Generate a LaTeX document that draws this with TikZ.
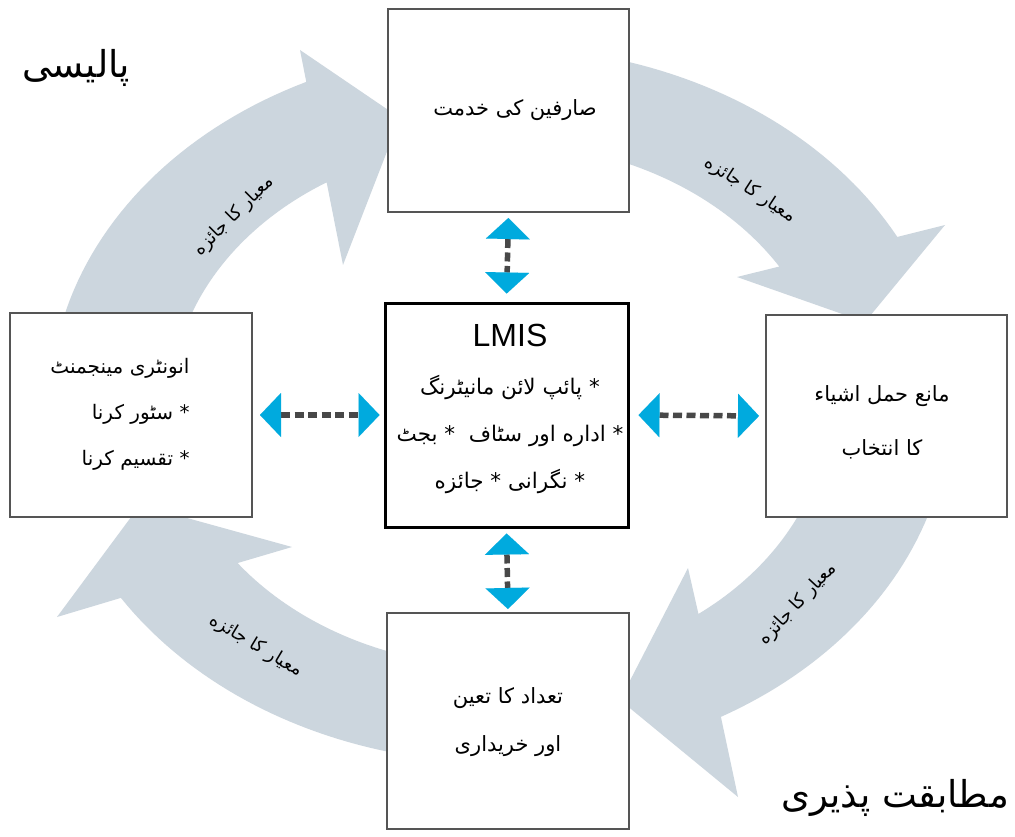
\documentclass[tikz,border=0pt]{standalone}
\usepackage{fontspec}
\setmainfont{Liberation Sans}
\newfontfamily\urdu[Script=Arabic]{DejaVu Sans}
\TeXXeTstate=1
\usetikzlibrary{arrows.meta,calc}
\definecolor{arrowfill}{RGB}{204,214,222}
\definecolor{tipblue}{RGB}{0,170,222}
\definecolor{dashgray}{RGB}{72,72,72}
\definecolor{boxgray}{RGB}{85,85,85}
% #1 tail angle, #2 outer shaft end, #3 inner shaft end, #4 outer barb, #5 tip, #6 inner barb
\newcommand\mycyclearrow[6]{%
  \fill[arrowfill] plot[domain=#1:#2, samples=40] ({500+450*cos(\x)},{405+358*sin(\x)})
    -- #4 -- #5 -- #6
    -- plot[domain=#3:#1, samples=40] ({500+329*cos(\x)},{405+262*sin(\x)})
    -- cycle;}
\begin{document}
\begin{tikzpicture}[x=1pt,y=-1pt,
  box/.style={draw=boxgray, line width=2pt, fill=white, inner sep=0pt},
  mainbox/.style={draw=black, line width=3pt, fill=white, inner sep=0pt},
  boxtext/.style={font=\urdu\fontsize{21}{46}\selectfont, align=center, inner sep=0pt},
  looplabel/.style={font=\urdu\fontsize{18}{22}\selectfont, inner sep=0pt},
  corner/.style={font=\urdu\fontsize{37}{40}\selectfont, inner sep=0pt},
  conn/.style={draw=dashgray, line width=5.5pt, dash pattern=on 9pt off 4.5pt,
    {Triangle[color=tipblue, width=44pt, length=21pt, line width=0.01pt]}-{Triangle[color=tipblue, width=44pt, length=21pt, line width=0.01pt]}}
]
\useasboundingbox (0,0) rectangle (1015,837);
\fill[white] (0,0) rectangle (1015,837);

% curved cycle arrows (ellipse centre 500,405)
\mycyclearrow{185}{244.5}{238.2}{(300,50)}{(400,118)}{(343,265)}
\mycyclearrow{275}{332.0}{328.1}{(945,225)}{(865,322)}{(737,277)}
\mycyclearrow{5}{60.6}{52.9}{(738,797)}{(620,700)}{(688,568)}
\mycyclearrow{95}{147.4}{142.9}{(57,617)}{(140,505)}{(292,547)}

% boxes
\node[box, minimum width=241pt, minimum height=203pt] (top) at (508.5,110.5) {};
\node[box, minimum width=242pt, minimum height=204pt] (left) at (131,415) {};
\node[box, minimum width=241pt, minimum height=202pt] (right) at (886.5,416) {};
\node[box, minimum width=242pt, minimum height=216pt] (bottom) at (508,721) {};
\node[mainbox, minimum width=243pt, minimum height=224pt] (center) at (506.5,415) {};

% box texts
\node[boxtext] (toptext) at (515,110) {\beginR صارفین کی خدمت\endR};
\node[font=\fontsize{32}{36}\selectfont, inner sep=0pt] (lmis) at (510,335) {LMIS};
\node[boxtext, font=\urdu\fontsize{21.5}{47}\selectfont] (centertext) at (510,434) {\beginR * پائپ لائن مانیٹرنگ\endR\\\beginR * اداره اور سٹاف \ * بجٹ\endR\\\beginR * نگرانی * جائزه\endR};
\node[boxtext, align=right, font=\urdu\fontsize{20}{46}\selectfont] (lefttext) at (120,414) {\beginR انونٹری مینجمنٹ\endR\\\beginR * سٹور کرنا\endR\\\beginR * تقسیم کرنا\endR};
\node[boxtext, font=\urdu\fontsize{21}{54}\selectfont] (righttext) at (882,422) {\beginR مانع حمل اشیاء\endR\\\beginR کا انتخاب\endR};
\node[boxtext, font=\urdu\fontsize{21}{48}\selectfont] (bottomtext) at (508,722) {\beginR تعداد کا تعین\endR\\\beginR اور خریداری\endR};

% connectors
\draw[conn, shorten <=5pt, shorten >=8pt] (top.south) -- (center.north);
\draw[conn, shorten <=5pt, shorten >=3pt] (center.south) -- (bottom.north);
\draw[conn, shorten <=7pt, shorten >=4pt] (left.east) -- (center.west);
\draw[conn, shorten <=9pt, shorten >=6pt] (center.east) -- (right.west);

% loop labels
\node[looplabel, rotate=45] (lbltl) at (234,216) {\beginR معیار کا جائزه\endR};
\node[looplabel, rotate=-33] (lbltr) at (750,190) {\beginR معیار کا جائزه\endR};
\node[looplabel, rotate=47] (lblbr) at (798,604) {\beginR معیار کا جائزه\endR};
\node[looplabel, rotate=-31] (lblbl) at (256,646) {\beginR معیار کا جائزه\endR};

% corner titles
\node[corner] (policy) at (76,68) {\beginR پالیسی\endR};
\node[corner] (compliance) at (895,798) {\beginR مطابقت پذیری\endR};
\end{tikzpicture}
\end{document}
